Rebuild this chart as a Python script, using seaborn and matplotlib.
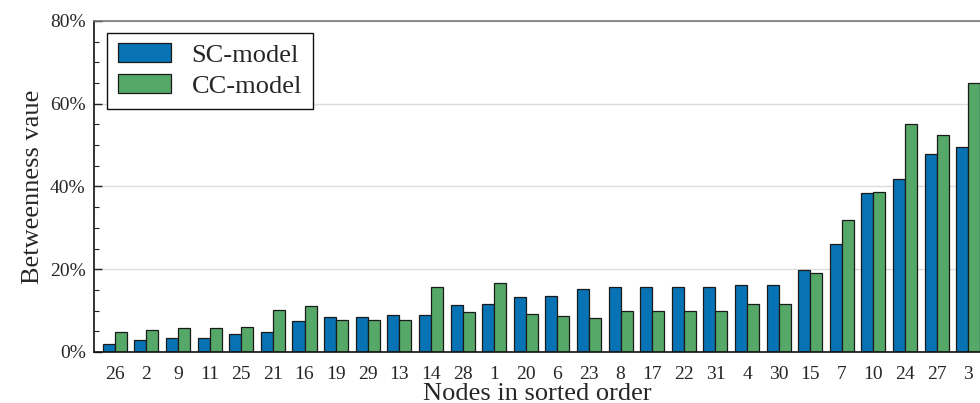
import matplotlib
matplotlib.use("Agg")
import matplotlib.pyplot as plt
import seaborn as sns
import pandas as pd
from matplotlib.ticker import MultipleLocator, FuncFormatter

nodes = ["26", "2", "9", "11", "25", "21", "16", "19", "29", "13", "14", "28", "1", "20",
         "6", "23", "8", "17", "22", "31", "4", "30", "15", "7", "10", "24", "27", "3"]
sc_model = [1.9, 2.8, 3.3, 3.3, 4.3, 4.8, 7.4, 8.5, 8.5, 8.9, 8.9, 11.3, 11.6, 13.3,
            13.6, 15.2, 15.6, 15.6, 15.6, 15.6, 16.3, 16.3, 19.7, 26.2, 38.5, 41.9, 47.9, 49.5]
cc_model = [4.9, 5.2, 5.7, 5.7, 6.0, 10.1, 11.2, 7.8, 7.8, 7.7, 15.7, 9.6, 16.6, 9.2,
            8.6, 8.1, 9.8, 9.8, 9.8, 9.8, 11.5, 11.5, 19.1, 31.8, 38.7, 55.0, 52.4, 64.9]
series_names = ["SC-model", "CC-model"]
colors = ["#0873B4", "#55A868"]

df = pd.DataFrame({
    "node": nodes * 2,
    "value": sc_model + cc_model,
    "model": [series_names[0]] * len(nodes) + [series_names[1]] * len(nodes),
})

sns.set_theme(style="white")
plt.rcParams["font.family"] = ["Liberation Serif", "DejaVu Serif"]

fig = plt.figure(figsize=(9.8, 4.03), dpi=100)
ax = fig.add_axes([0.0959, 0.1266, 1.0 - 0.0959, 0.948 - 0.1266])

ax.yaxis.grid(True, color="#dcdcdc", linewidth=1.0)
ax.set_axisbelow(True)

sns.barplot(data=df, x="node", y="value", hue="model", order=nodes,
            hue_order=series_names, palette=colors, width=0.76,
            edgecolor="#1a1a1a", linewidth=0.9, saturation=1, ax=ax)

ax.set_xlim(-0.66, 27.37)
ax.set_ylim(0, 80)
ax.yaxis.set_major_locator(MultipleLocator(20))
ax.yaxis.set_minor_locator(MultipleLocator(5))
ax.yaxis.set_major_formatter(FuncFormatter(lambda v, p: f"{v:.0f}%"))
ax.tick_params(axis="y", which="major", direction="in", length=6, width=1,
               left=True, labelsize=14, pad=6, color="#222222")
ax.tick_params(axis="y", which="minor", direction="in", length=3.5, width=0.8,
               left=True, color="#222222")
ax.tick_params(axis="x", bottom=False, labelsize=14, pad=4)

for s in ["left", "bottom"]:
    ax.spines[s].set_color("#111111")
    ax.spines[s].set_linewidth(1.2)
ax.spines["top"].set_color("#777777")
ax.spines["top"].set_linewidth(1.2)
ax.spines["right"].set_visible(False)

ax.set_xlabel("Nodes in sorted order", fontsize=19, labelpad=0)
ax.set_ylabel("Betweenness vaue", fontsize=19, labelpad=4)

leg = ax.legend(loc="upper left", bbox_to_anchor=(0.015, 0.965), fontsize=19,
                frameon=True, fancybox=False, edgecolor="#111111",
                handlelength=2.0, handleheight=0.7, handletextpad=0.8,
                borderpad=0.4, labelspacing=0.3, borderaxespad=0)
leg.get_frame().set_linewidth(1.0)
leg.get_frame().set_alpha(1)

fig.savefig("out.png", dpi=100)
